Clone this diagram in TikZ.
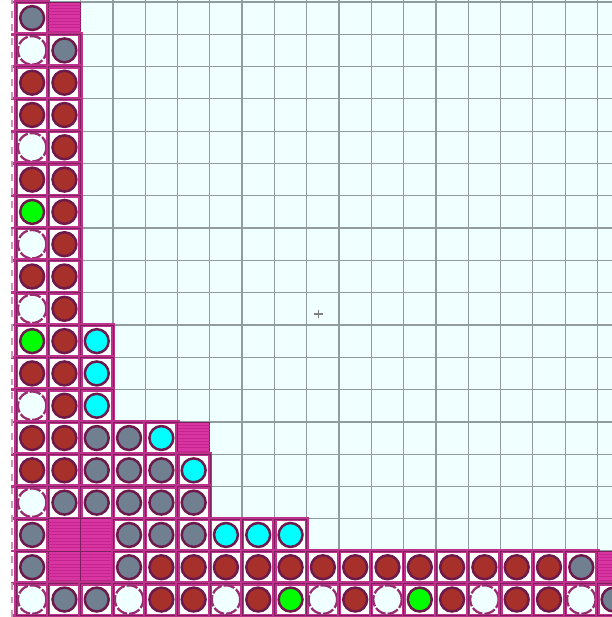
\documentclass[tikz,border=0pt]{standalone}

\definecolor{boardbg}{RGB}{240,255,255}
\definecolor{gridgray}{RGB}{145,157,157}
\definecolor{framemag}{RGB}{190,50,140}
\definecolor{framedark}{RGB}{125,30,95}
\definecolor{blockmag}{RGB}{216,52,162}
\definecolor{blockline}{RGB}{196,36,142}
\definecolor{ballred}{RGB}{168,48,42}
\definecolor{ballgrey}{RGB}{112,128,144}
\definecolor{ballcyan}{RGB}{0,255,255}
\definecolor{ballgreen}{RGB}{0,255,0}
\definecolor{ballrim}{RGB}{110,25,75}
\definecolor{emptyrim}{RGB}{150,45,112}
\definecolor{edgedash}{RGB}{205,150,185}

\begin{document}
\begin{tikzpicture}[x=0.5cm,y=0.5cm,
    cellbox/.style={fill=white, draw=framemag, double=framedark, double distance=0.25pt, line width=0.8pt},
    blockbox/.style={fill=blockmag, draw=framedark, line width=0.3pt},
    ball/.style={draw=ballrim, line width=1.1pt, radius=0.37},
    ball r/.style={ball, fill=ballred},
    ball g/.style={ball, fill=ballgrey},
    ball c/.style={ball, fill=ballcyan},
    ball n/.style={ball, fill=ballgreen},
    ball w/.style={draw=emptyrim, fill=boardbg, line width=1pt, dash pattern=on 5pt off 0.9pt, radius=0.44}]
    \useasboundingbox (-0.495,-0.04) rectangle (18.45,19.06);
    \clip (-0.495,-0.04) rectangle (18.45,19.06);
    % board
    \fill[boardbg] (0,-0.04) rectangle (18.45,19.06);
    \fill[white] (-0.495,-0.04) rectangle (0,19.06);
    \foreach \x in {0,...,18} \draw[gridgray, line width=0.55pt] (\x,-0.04) -- (\x,19.06);
    \foreach \y in {0,...,19} \draw[gridgray, line width=0.55pt] (0,\y) -- (18.45,\y);
    \foreach \y in {0,...,19} \draw[framemag, line width=1.2pt] (-0.15,\y) -- (0,\y);
    \draw[edgedash, line width=0.8pt, dashed] (-0.12,-0.04) -- (-0.12,19.06);
    % pieces, one row from the top at a time
    \foreach \rr/\cells in {0/{g,m}, 1/{w,g}, 2/{r,r}, 3/{r,r}, 4/{w,r}, 5/{r,r},
        6/{n,r}, 7/{w,r}, 8/{r,r}, 9/{w,r}, 10/{n,r,c}, 11/{r,r,c}, 12/{w,r,c},
        13/{r,r,g,g,c,m}, 14/{r,r,g,g,g,c}, 15/{w,g,g,g,g,g},
        16/{g,m,m,g,g,g,c,c,c},
        17/{g,m,m,g,r,r,r,r,r,r,r,r,r,r,r,r,r,g,m},
        18/{w,g,g,w,r,r,w,r,n,w,r,w,n,r,w,r,r,w,g}} {
      \foreach \kk [count=\cc from 0] in \cells {
        \if\kk m
          \draw[blockbox] (\cc,18-\rr) rectangle ++(1,1);
          \foreach \s in {0.1,0.2,...,0.95} \draw[blockline, line width=0.4pt] (\cc,18-\rr+\s) -- ++(1,0);
        \else
          \draw[cellbox] (\cc,18-\rr) rectangle ++(1,1);
          \draw[ball \kk] (\cc+0.5,18.5-\rr) circle;
        \fi
      }
    }
    \draw[gray, line width=0.5pt] (9.23,9.34) -- (9.49,9.34) (9.36,9.21) -- (9.36,9.47);
\end{tikzpicture}
\end{document}
